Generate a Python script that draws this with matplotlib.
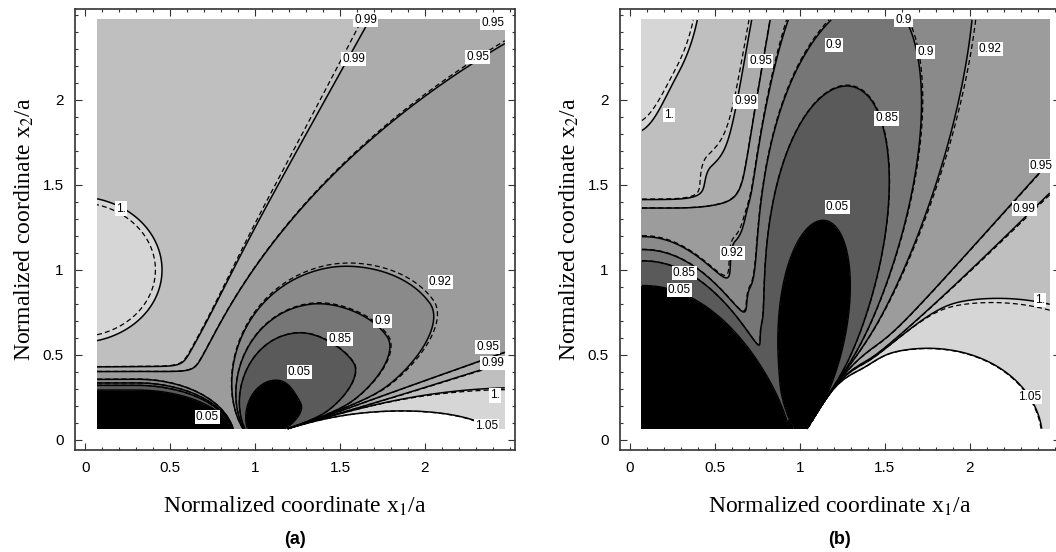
import numpy as np
import matplotlib
matplotlib.use("Agg")
import matplotlib.pyplot as plt

# contour levels, their printed labels and the gray shade of each band
levels = [0.05, 0.85, 0.9, 0.92, 0.95, 0.99, 1.0, 1.05]
level_labels = ["0.05", "0.85", "0.9", "0.92", "0.95", "0.99", "1.", "1.05"]
band_colors = ["#000000", "#5a5a5a", "#767676", "#8a8a8a", "#9c9c9c",
               "#acacac", "#bfbfbf", "#d6d6d6", "#ffffff"]

ticks = [0, 0.5, 1, 1.5, 2]
tick_labels = ["0", "0.5", "1", "1.5", "2"]
x_span = [0.07, 2.47]
y_span = [0.065, 2.47]
tip = [1.0, 0.0]

# panel (a) field description
a_plateaus = [0.935, 0.995]
a_edge = [0.409, 0.0086, 2.0]             # face boundary y, width, corner softness
a_diag = [0.69, 0.65, 61.0, 0.022, 0.036]  # point on 0.99 line, angle, width, growth
a_cliff = [18.7, 0.6]                     # fan edge angle, width (deg)
a_bump = [-0.05, 1.0, 0.34, 0.29, 0.015]
a_face = [0.30, 0.3, 0.88, 0.5, 0.02, 0.1, 0.1]
a_lobes = [[0, 8, 8, 2, 2, 0.23, 4.0],
           [68, 18, 22, 2, 2, -0.008, 4.5],
           [38, 14, 30, 2, 2, -0.033, 3.0]]
a_label_pos = {0.05: [(1.26, 0.40), (0.72, 0.135)], 0.85: [(1.5, 0.59)],
               0.9: [(1.75, 0.70)], 0.92: [(2.09, 0.93)],
               0.95: [(2.37, 0.545), (2.31, 2.25), (2.4, 2.45)],
               0.99: [(2.40, 0.45), (1.58, 2.24), (1.65, 2.47)],
               1.0: [(2.41, 0.26), (0.21, 1.36)], 1.05: [(2.36, 0.08)]}

# panel (b) field description
b_plateaus = [0.935, 0.995]
b_edge = [1.376, 0.0143, 4.0]
b_diag = [0.76, 2.47, 80.7, 0.0226, 0.0]
b_cliff = [47.0, 1.0]
b_bump = [0.0, 2.75, 0.27, 0.56, 0.022]
b_face = [0.93, 0.08, 0.95, 0.75, 0.036, 0.2, 0.11]
b_lobes = [[0, 23, 23, 2, 2, 0.39, 5.5],
           [84, 9, 9, 2, 2, -3.4, 5.4],
           [76, 12, 10, 2, 2, -0.165, 2.0],
           [108, 14, 6, 2, 2, -0.026, 3.0]]
b_label_pos = {0.05: [(1.22, 1.37), (0.29, 0.88)], 0.85: [(0.32, 0.98), (1.51, 1.89)],
               0.9: [(1.2, 2.32), (1.61, 2.47), (1.74, 2.28)],
               0.92: [(0.6, 1.1), (2.12, 2.3)],
               0.95: [(0.77, 2.23), (2.42, 1.61)], 0.99: [(0.68, 1.99), (2.32, 1.36)],
               1.0: [(0.23, 1.91), (2.41, 0.82)], 1.05: [(2.35, 0.25)]}


def expit(z):
    return 0.5 * (1 + np.tanh(0.5 * z))


def smin(a, b, k):
    m = np.minimum(a, b)
    return m - k * np.log(np.exp(-(a - m) / k) + np.exp(-(b - m) / k))


def field(X, Y, plateaus, edge, diag, cliff, bump, face, lobes):
    lo, hi = plateaus
    dx, dy = X - tip[0], Y - tip[1]
    r = np.maximum(np.hypot(dx, dy), 0.012)
    th = np.degrees(np.arctan2(dy, dx))

    z1 = (Y - edge[0]) / edge[1]
    x0, y0, ang, w0, wk = diag
    ux, uy = np.cos(np.radians(ang)), np.sin(np.radians(ang))
    d_left = -(X - x0) * uy + (Y - y0) * ux
    along = (X - x0) * ux + (Y - y0) * uy
    w = w0 + wk * np.clip(along, 0, None) ** 2
    z = smin(z1, d_left / w + 2.4, edge[2])
    s_fan = expit((cliff[0] - th) / cliff[1])
    F = lo + (hi - lo) * np.maximum(expit(z), s_fan)

    cx, cy, sx, sy, amp = bump
    F += amp * np.exp(-0.5 * (((X - cx) / sx) ** 2 + ((Y - cy) / sy) ** 2))

    h0, x1, x2, k, cw, ha, hs = face
    u = np.clip((X - x1) / (x2 - x1), 0, None)
    yb = h0 * np.clip(1 - u ** 2, 0, 1) ** k
    t = Y / np.maximum(yb, 1e-4)
    F -= 0.95 * expit((1 - t) / cw) + ha * np.exp(-np.clip(t - 1, -0.4, None) / hs)

    for tc, s_lo, s_hi, m_lo, m_hi, amp, n in lobes:
        dth = th - tc
        zz = np.where(dth < 0, np.abs(dth) / s_lo, dth / s_hi)
        mm = np.where(dth < 0, m_lo, m_hi)
        F += amp * np.exp(-zz ** mm) * r ** (-n)
    return np.clip(F, -1, 2)


def put_labels(ax, label_pos):
    for lev, pts in label_pos.items():
        text = level_labels[levels.index(lev)]
        for px, py in pts:
            ax.text(px, py, text, fontsize=8.5, family="Liberation Sans",
                    ha="center", va="center", clip_on=False, zorder=5,
                    bbox=dict(facecolor="white", edgecolor="none", pad=0.8))


def draw_panel(ax, params, label_pos):
    xs = np.linspace(x_span[0], x_span[1], 700)
    ys = np.linspace(y_span[0], y_span[1], 700)
    X, Y = np.meshgrid(xs, ys)
    F = field(X, Y, *params)
    bounds = [-1.0] + levels + [2.0]
    ax.contourf(X, Y, F, levels=bounds, colors=band_colors)
    ax.contour(X, Y, F - 0.0009, levels=levels[1:], colors="black",
               linewidths=0.9, linestyles=[(0, (4, 2.5))])
    ax.contour(X, Y, F, levels=levels, colors="black", linewidths=1.1)
    put_labels(ax, label_pos)


plt.rcParams["mathtext.fontset"] = "stix"
fig = plt.figure(figsize=(10.56, 5.52), dpi=100)
ax_a = fig.add_axes([0.071, 0.185, 0.4167, 0.799])
ax_b = fig.add_axes([0.587, 0.185, 0.4167, 0.799])

panels = [(ax_a, (a_plateaus, a_edge, a_diag, a_cliff, a_bump, a_face, a_lobes), a_label_pos, "(a)"),
          (ax_b, (b_plateaus, b_edge, b_diag, b_cliff, b_bump, b_face, b_lobes), b_label_pos, "(b)")]

for ax, params, label_pos, tag in panels:
    draw_panel(ax, params, label_pos)
    ax.set_xlim(-0.06, 2.53)
    ax.set_ylim(-0.06, 2.535)
    ax.set_xticks(ticks)
    ax.set_xticklabels(tick_labels)
    ax.set_yticks(ticks)
    ax.set_yticklabels(tick_labels)
    ax.set_xticks(np.arange(-0.0, 2.51, 0.1), minor=True)
    ax.set_yticks(np.arange(-0.0, 2.51, 0.1), minor=True)
    ax.tick_params(which="both", direction="in", top=True, right=True,
                   color="#333333", labelsize=11, width=0.8)
    ax.tick_params(which="major", length=5, pad=8)
    ax.tick_params(which="minor", length=2.5)
    for lab in ax.get_xticklabels() + ax.get_yticklabels():
        lab.set_family("Liberation Sans")
    for sp in ax.spines.values():
        sp.set_color("#333333")
        sp.set_linewidth(1.2)
    ax.set_xlabel("Normalized coordinate x$_1$/a", family="Liberation Serif",
                  fontsize=17, labelpad=14)
    ax.set_ylabel("Normalized coordinate x$_2$/a", family="Liberation Serif",
                  fontsize=17, labelpad=5)
    pos = ax.get_position()
    fig.text(pos.x0 + pos.width / 2, 0.022, tag, ha="center", va="center",
             family="Liberation Sans", fontweight="bold", fontsize=13)

fig.savefig("out.png", dpi=100)
